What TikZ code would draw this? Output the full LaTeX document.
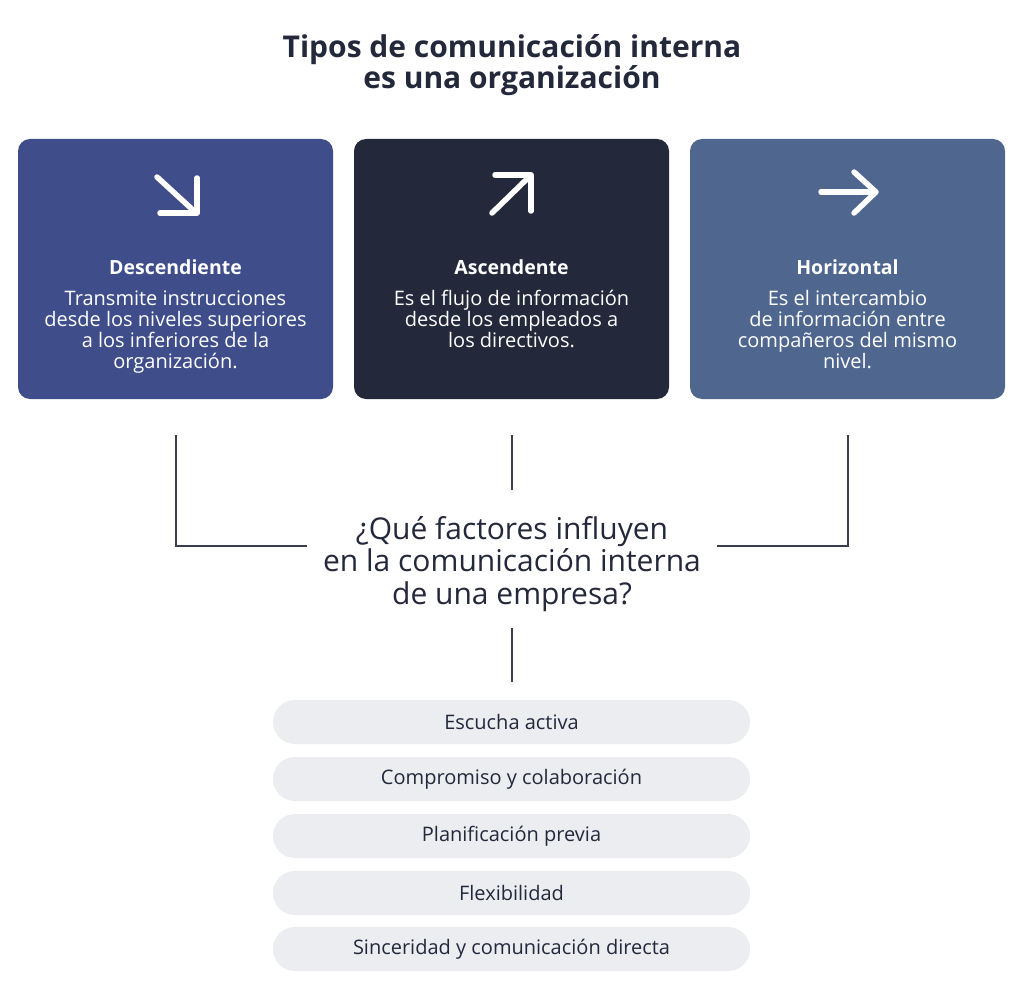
\documentclass[tikz,border=0pt]{standalone}
\usepackage{fontspec}
\setmainfont{Open Sans}
\usetikzlibrary{calc}
\definecolor{navy}{HTML}{23283B}
\definecolor{boxA}{HTML}{3F4E8A}
\definecolor{boxB}{HTML}{23283B}
\definecolor{boxC}{HTML}{4F678E}
\definecolor{pill}{HTML}{ECEDF1}
\definecolor{linec}{HTML}{3A3D4D}
\begin{document}
\begin{tikzpicture}[x=1pt,y=-1pt,
  typebox/.style={rounded corners=12pt, minimum width=315pt, minimum height=260pt, inner sep=0pt},
  boxhead/.style={text=white, font=\fontsize{19.5}{22}\selectfont\bfseries},
  boxbody/.style={text=white, align=center, inner sep=0pt, font=\fontsize{20}{21}\selectfont},
  icon/.style={white, line width=5.5pt, line cap=round, line join=round},
  link/.style={linec, line width=1.6pt},
  pillbox/.style={fill=pill, rounded corners=22pt, minimum width=477pt, minimum height=44pt, inner sep=0pt, text=navy, font=\fontsize{20}{22}\selectfont}
]
\useasboundingbox[fill=white] (0,0) rectangle (1024,995);
% title
\node[text=navy, align=center, font=\fontsize{30}{31}\selectfont\bfseries] (title) at (512,65) {Tipos de comunicación interna\\es una organización};
% boxes
\node[typebox, fill=boxA] (b1) at (175.5,269) {};
\node[typebox, fill=boxB] (b2) at (511.5,269) {};
\node[typebox, fill=boxC] (b3) at (847.5,269) {};
% icons
\draw[icon] (157,177) -- (194,211);
\draw[icon] (160,213) -- (197,213) -- (197,178);
\draw[icon] (492,213) -- (529,177);
\draw[icon] (495,175) -- (531,175) -- (531,211);
\draw[icon] (821,192) -- (875,192);
\draw[icon] (854,172) -- (876,192) -- (854,213);
% headings
\node[boxhead] (h1) at (175.5,267) {Descendiente};
\node[boxhead] (h2) at (511.5,267) {Ascendente};
\node[boxhead] (h3) at (847.5,267) {Horizontal};
\node[boxbody, anchor=north] (t1) at (175.5,291) {Transmite instrucciones\\desde los niveles superiores\\a los inferiores de la\\organización.};
\node[boxbody, anchor=north] (t2) at (511.5,290) {Es el flujo de información\\desde los empleados a\\los directivos.};
\node[boxbody, anchor=north] (t3) at (847.5,290) {Es el intercambio\\de información entre\\compañeros del mismo\\nivel.};
% question
\node[text=navy, align=center, font=\fontsize{30}{32.5}\selectfont] (q) at (512,564) {¿Qué factores influyen\\en la comunicación interna\\de una empresa?};
% connectors
\coordinate (l1) at (176,435);
\coordinate (l2) at (512,435);
\coordinate (l3) at (848,435);
\coordinate (qL) at (307,546);
\coordinate (qR) at (717,546);
\coordinate (qT) at (512,490);
\coordinate (qB) at (512,628);
\coordinate (pT) at (512,682);
\draw[link] (l1) |- (qL);
\draw[link] (l3) |- (qR);
\draw[link] (l2) -- (qT);
\draw[link] (qB) -- (pT);
% pills
\node[pillbox] (p1) at (511.5,722) {Escucha activa};
\node[pillbox] (p2) at (511.5,779) {Compromiso y colaboración};
\node[pillbox] (p3) at (511.5,836) {Planificación previa};
\node[pillbox] (p4) at (511.5,893) {Flexibilidad};
\node[pillbox] (p5) at (511.5,949) {Sinceridad y comunicación directa};
\end{tikzpicture}
\end{document}
